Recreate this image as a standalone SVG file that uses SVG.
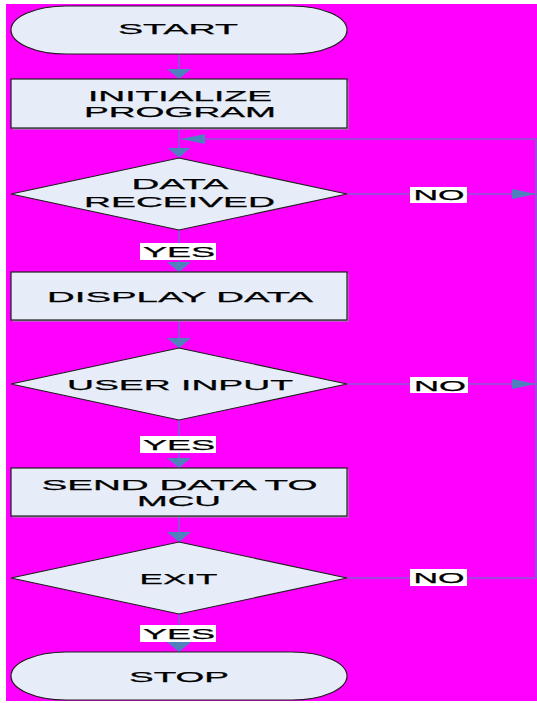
<svg xmlns="http://www.w3.org/2000/svg" width="537" height="703" viewBox="0 0 537 703">
  <style>
    .node { fill: #E6ECF8; stroke: #1e1e1e; stroke-width: 1.2; }
    .shadow { fill: #9a9aaa; }
    .label { font-family: "Liberation Sans", Arial, sans-serif; font-size: 15.5px; fill: #000; stroke: #000; stroke-width: 0.25; text-anchor: middle; }
    .tag { fill: #ffffff; }
    .wire { fill: none; stroke: #4F81BD; stroke-width: 1.2; }
  </style>
  <defs>
    <!-- arrowhead for vertical runs: 10 long, 24 wide -->
    <marker id="headV" markerUnits="userSpaceOnUse" markerWidth="10" markerHeight="24" viewBox="0 0 10 24" refX="10" refY="12" orient="auto">
      <path d="M0,0 L10,12 L0,24 Z" fill="#4F81BD"/>
    </marker>
    <!-- arrowhead for horizontal runs: 24 long, 10 wide -->
    <marker id="headH" markerUnits="userSpaceOnUse" markerWidth="24" markerHeight="10" viewBox="0 0 24 10" refX="24" refY="5" orient="auto">
      <path d="M0,0 L24,5 L0,10 Z" fill="#4F81BD"/>
    </marker>
  </defs>

  <rect x="0" y="0" width="537" height="703" fill="#ffffff"/>
  <rect x="6" y="4" width="531" height="697" fill="#FF00FF"/>

  <g id="connectors">
    <path class="wire" d="M179,54 V79" marker-end="url(#headV)"/>
    <path class="wire" d="M179,128 V157.5" marker-end="url(#headV)"/>
    <path class="wire" d="M536,578 V139 H181" marker-end="url(#headH)"/>
    <path class="wire" d="M347,194 H536" marker-end="url(#headH)"/>
    <path class="wire" d="M179,230 V272" marker-end="url(#headV)"/>
    <path class="wire" d="M179,320 V348" marker-end="url(#headV)"/>
    <path class="wire" d="M347,384 H536" marker-end="url(#headH)"/>
    <path class="wire" d="M179,420 V468" marker-end="url(#headV)"/>
    <path class="wire" d="M179,516 V542" marker-end="url(#headV)"/>
    <path class="wire" d="M347,578 H536"/>
    <path class="wire" d="M179,614 V652" marker-end="url(#headV)"/>

    <rect class="tag" x="410" y="187" width="57" height="16"/>
    <text class="label" x="439" y="200" textLength="51" lengthAdjust="spacingAndGlyphs">NO</text>
    <rect class="tag" x="410" y="377" width="58" height="16"/>
    <text class="label" x="440" y="390.5" textLength="52" lengthAdjust="spacingAndGlyphs">NO</text>
    <rect class="tag" x="410" y="569" width="57" height="17"/>
    <text class="label" x="439" y="583" textLength="51" lengthAdjust="spacingAndGlyphs">NO</text>

    <rect class="tag" x="140" y="243" width="76" height="17"/>
    <text class="label" x="179" y="257" textLength="72" lengthAdjust="spacingAndGlyphs">YES</text>
    <rect class="tag" x="140" y="436" width="76" height="17"/>
    <text class="label" x="179" y="450" textLength="72" lengthAdjust="spacingAndGlyphs">YES</text>
    <rect class="tag" x="140" y="625" width="76" height="17"/>
    <text class="label" x="179" y="639" textLength="72" lengthAdjust="spacingAndGlyphs">YES</text>
  </g>

  <g id="start">
    <rect class="node" x="11" y="6" width="336" height="48" rx="55" ry="24"/>
    <text class="label" x="178" y="34" textLength="120" lengthAdjust="spacingAndGlyphs">START</text>
  </g>

  <g id="initialize">
    <rect class="shadow" x="12.5" y="80.5" width="336" height="49"/>
    <rect class="node" x="11" y="79" width="336" height="49"/>
    <text class="label" x="180" y="101" textLength="184" lengthAdjust="spacingAndGlyphs">INITIALIZE</text>
    <text class="label" x="180" y="117" textLength="192" lengthAdjust="spacingAndGlyphs">PROGRAM</text>
  </g>

  <g id="data-received">
    <polygon class="node" points="179,158 347,194 179,230 11,194"/>
    <text class="label" x="180" y="189" textLength="97" lengthAdjust="spacingAndGlyphs">DATA</text>
    <text class="label" x="179.5" y="206.5" textLength="191" lengthAdjust="spacingAndGlyphs">RECEIVED</text>
  </g>

  <g id="display-data">
    <rect class="shadow" x="12.5" y="273.5" width="336" height="48"/>
    <rect class="node" x="11" y="272" width="336" height="48"/>
    <text class="label" x="180" y="301.5" textLength="266" lengthAdjust="spacingAndGlyphs">DISPLAY DATA</text>
  </g>

  <g id="user-input">
    <polygon class="node" points="179,348 347,384 179,420 11,384"/>
    <text class="label" x="180" y="389.5" textLength="226" lengthAdjust="spacingAndGlyphs">USER INPUT</text>
  </g>

  <g id="send-data">
    <rect class="shadow" x="12.5" y="469.5" width="336" height="48"/>
    <rect class="node" x="11" y="468" width="336" height="48"/>
    <text class="label" x="179.5" y="489.5" textLength="276" lengthAdjust="spacingAndGlyphs">SEND DATA TO</text>
    <text class="label" x="179" y="505.5" textLength="84" lengthAdjust="spacingAndGlyphs">MCU</text>
  </g>

  <g id="exit">
    <polygon class="node" points="179,542 347,578 179,614 11,578"/>
    <text class="label" x="178.5" y="583.5" textLength="78" lengthAdjust="spacingAndGlyphs">EXIT</text>
  </g>

  <g id="stop">
    <rect class="node" x="11" y="652" width="336" height="48" rx="55" ry="24"/>
    <text class="label" x="179" y="681.5" textLength="100" lengthAdjust="spacingAndGlyphs">STOP</text>
  </g>
</svg>
